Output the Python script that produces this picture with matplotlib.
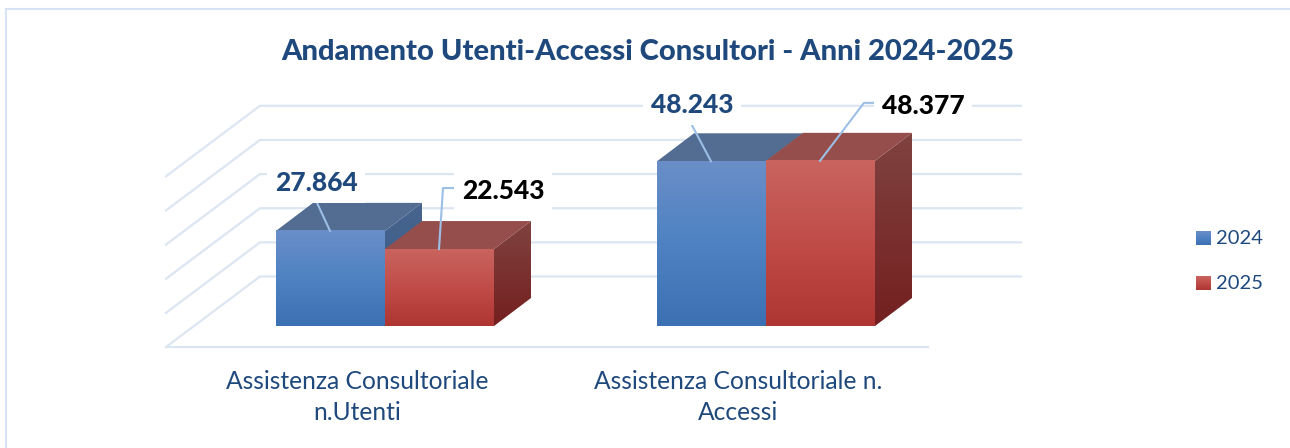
import numpy as np
import matplotlib
matplotlib.use("Agg")
import matplotlib.pyplot as plt
from matplotlib.patches import Polygon
from matplotlib.colors import LinearSegmentedColormap

categories = ["Assistenza Consultoriale\nn.Utenti", "Assistenza Consultoriale n.\nAccessi"]
series_names = ["2024", "2025"]
values_2024 = [27864, 48243]
values_2025 = [22543, 48377]
labels_2024 = ["27.864", "48.243"]
labels_2025 = ["22.543", "48.377"]
grid_values = [0, 10000, 20000, 30000, 40000, 50000]

W, H = 1290, 448
PER_PX = 48243 / 164.7   # value units per pixel
CAT_PX = 381.0           # pixels between categories
X0_PX, Y0_PX = 385, 326  # where category 0 / value 0 land

plt.rcParams["font.family"] = ["Lato", "DejaVu Sans"]

fig = plt.figure(figsize=(W / 100, H / 100), dpi=100)
ax = fig.add_axes([0, 0, 1, 1])
ax.axis("off")


def dx(px):
    return px / CAT_PX


def dy(px):
    return px * PER_PX


def fx(px):
    return (px - X0_PX) / CAT_PX


def fy(px):
    return (Y0_PX - px) * PER_PX


GRID = "#DCE6F2"
TEXT = "#1F497D"
LEADER = "#9DBFE6"

# chart border, only top and left are inside the crop
ax.plot([fx(6), fx(6), fx(W)], [fy(H), fy(8.5), fy(8.5)], color="#D5E3F4", lw=1.5, zorder=1,
        solid_joinstyle="miter")

# floor and walls
for v in grid_values:
    y_back = fy(276.5) + v
    y_front = y_back - dy(70.5)
    ax.plot([fx(166), fx(260), fx(1021)], [y_front, y_back, y_back],
            color=GRID, lw=1.6, zorder=1, solid_joinstyle="miter")
ax.plot([fx(166), fx(928)], [fy(347), fy(347)], color=GRID, lw=1.6, zorder=1)

blue_front = LinearSegmentedColormap.from_list("bf", ["#6A8EC8", "#4E82C2", "#3B70B3"])
red_front = LinearSegmentedColormap.from_list("rf", ["#C9645F", "#C04C48", "#AE3532"])
blue_side = LinearSegmentedColormap.from_list("bs", ["#46648E", "#3A5C88"])
red_side = LinearSegmentedColormap.from_list("rs", ["#7F4340", "#741F1F"])
ramp = np.linspace(0, 1, 256).reshape(-1, 1)

BAR_W = 109 / CAT_PX
DEPTH_X = dx(37)
DEPTH_Y = dy(28)


def bar3d(left, value, front_cm, side_cm, top_col, z):
    right = left + BAR_W
    # side face
    side = Polygon([(right, 0), (right + DEPTH_X, DEPTH_Y),
                    (right + DEPTH_X, value + DEPTH_Y), (right, value)],
                   fc="none", ec="none", zorder=z)
    ax.add_patch(side)
    im = ax.imshow(ramp, cmap=side_cm, aspect="auto", zorder=z,
                   extent=[right, right + DEPTH_X, 0, value + DEPTH_Y])
    im.set_clip_path(side)
    # top face
    ax.add_patch(Polygon([(left, value), (right, value),
                          (right + DEPTH_X, value + DEPTH_Y),
                          (left + DEPTH_X, value + DEPTH_Y)],
                         fc=top_col, ec="none", zorder=z))
    # front face
    ax.imshow(ramp, cmap=front_cm, aspect="auto", zorder=z + 0.1,
              extent=[left, right, 0, value])


for i in range(len(categories)):
    bar3d(i - BAR_W, values_2024[i], blue_front, blue_side, "#536C92", 3)
    bar3d(i, values_2025[i], red_front, red_side, "#964E4C", 3.5)

# data labels with leader lines (offsets in pixels from the bar front top)
leader_2024 = [[(-55, 0), (-68, -28)], [(-55, 0), (-74, -36)]]
leader_2025 = [[(54, 0), (58, -61), (70, -61)], [(54, 0), (98, -58), (110, -58)]]
text_2024 = [(-69, -48), (-74, -56)]
text_2025 = [(118, -58), (157, -55)]

for i in range(len(categories)):
    for vals, labs, lead, pos, col in (
        (values_2024, labels_2024, leader_2024, text_2024, TEXT),
        (values_2025, labels_2025, leader_2025, text_2025, "black"),
    ):
        xs = [i + dx(p[0]) for p in lead[i]]
        ys = [vals[i] - dy(p[1]) for p in lead[i]]
        ax.plot(xs, ys, color=LEADER, lw=1.5, zorder=6)
        ax.text(i + dx(pos[i][0]), vals[i] - dy(pos[i][1]), labs[i], color=col,
                fontsize=19, fontweight=900, ha="center", va="center", zorder=6,
                bbox=dict(fc="white", ec="none", pad=5.5))

# category labels
for i, cat in enumerate(categories):
    ax.text(i + dx(-28), fy(397), cat, color=TEXT, fontsize=17.7, ha="center",
            va="center", linespacing=1.45, zorder=5)

ax.text(fx(648), fy(52), "Andamento Utenti-Accessi Consultori - Anni 2024-2025",
        color=TEXT, fontsize=21, fontweight=900, ha="center", va="center")

# legend
for name, y_px, cm in zip(series_names, [238, 283], [blue_front, red_front]):
    ax.imshow(ramp, cmap=cm, aspect="auto", zorder=5,
              extent=[fx(1196), fx(1211), fy(y_px + 7), fy(y_px - 7)])
    ax.text(fx(1216), fy(y_px), name, color=TEXT, fontsize=14.5, va="center", zorder=5)

# imshow resets the limits, so set them last
ax.set_xlim(-X0_PX / CAT_PX, (W - X0_PX) / CAT_PX)
ax.set_ylim((Y0_PX - H) * PER_PX, Y0_PX * PER_PX)

fig.savefig("out.png", dpi=100, facecolor="white")
